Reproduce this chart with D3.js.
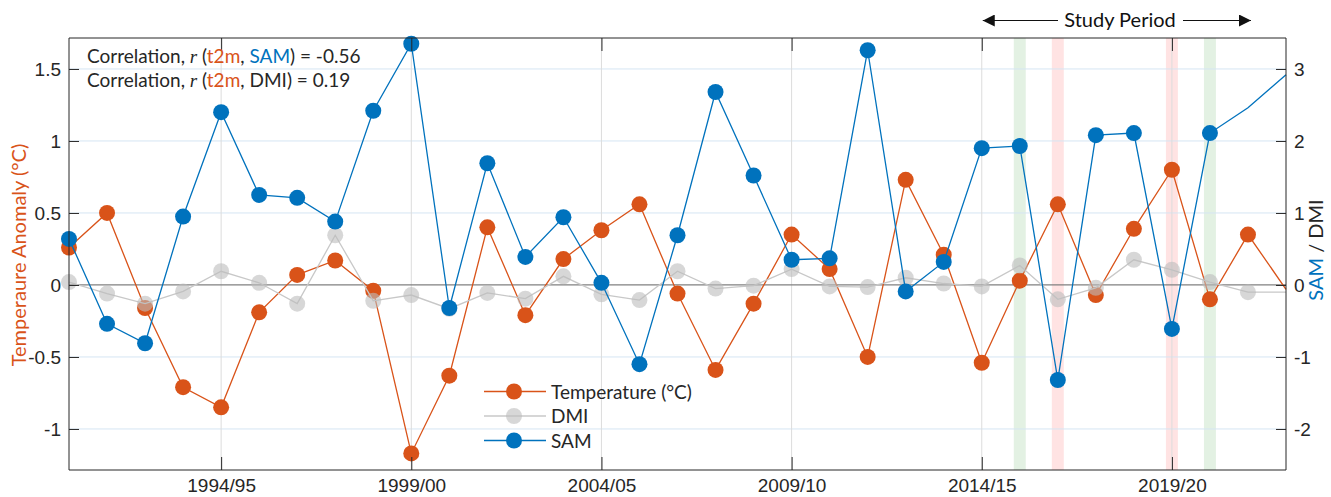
<!DOCTYPE html>
<html>
<head>
<meta charset="utf-8">
<script src="https://cdn.jsdelivr.net/npm/d3@7"></script>
<style>
  body { margin: 0; background: #fff; }
  svg { display: block; font-family: "Lato", "Open Sans", sans-serif; }
</style>
</head>
<body>
<div id="chart"></div>
<script>
// Data
const years = d3.range(1990, 2023);
const temperature = [0.26, 0.50, -0.16, -0.71, -0.85, -0.19, 0.07, 0.17, -0.04, -1.17,
  -0.63, 0.40, -0.21, 0.18, 0.38, 0.56, -0.06, -0.59, -0.13, 0.35,
  0.11, -0.50, 0.73, 0.21, -0.54, 0.03, 0.56, -0.07, 0.39, 0.80,
  -0.10, 0.35, -0.03];
const dmi = [0.04, -0.12, -0.26, -0.09, 0.19, 0.03, -0.26, 0.69, -0.22, -0.14,
  -0.33, -0.11, -0.19, 0.12, -0.13, -0.21, 0.19, -0.05, -0.01, 0.22,
  -0.02, -0.03, 0.10, 0.02, -0.02, 0.27, -0.20, -0.04, 0.35, 0.21,
  0.04, -0.10, -0.10];
const sam = [0.64, -0.54, -0.81, 0.95, 2.40, 1.25, 1.21, 0.88, 2.42, 3.35,
  -0.32, 1.69, 0.39, 0.94, 0.03, -1.10, 0.69, 2.68, 1.52, 0.35,
  0.37, 3.26, -0.09, 0.32, 1.90, 1.93, -1.32, 2.08, 2.11, -0.61,
  2.11, 2.46, 2.92];
// last year that carries a marker for each series
const tempMarkEnd = 2021, dmiMarkEnd = 2021, samMarkEnd = 2020;

const xTickYears = [1994, 1999, 2004, 2009, 2014, 2019];
const xTickLabels = ["1994/95", "1999/00", "2004/05", "2009/10", "2014/15", "2019/20"];
const leftTicks = [-1, -0.5, 0, 0.5, 1, 1.5];
const rightTicks = [-2, -1, 0, 1, 2, 3];

const positiveYears = [2015, 2020];   // green bands
const negativeYears = [2016, 2019];   // red bands

const ORANGE = "#D95319", BLUE = "#0072BD", GREY = "#bdbdbd";

// Layout
const width = 1331, height = 497;
const plot = { left: 69, top: 38, right: 1286, bottom: 470 };

const svg = d3.select("#chart").append("svg")
  .attr("width", width)
  .attr("height", height);

const x = d3.scaleLinear().domain([1990, 2022]).range([plot.left, plot.right]);
const yL = d3.scaleLinear().domain([-1.285, 1.715]).range([plot.bottom, plot.top]);
const yR = d3.scaleLinear().domain([-2.57, 3.43]).range([plot.bottom, plot.top]);

// Shaded years
const bandW = 12;
svg.append("g").selectAll("rect")
  .data(positiveYears.map(y => ({ y, c: "rgba(0,128,0,0.11)" }))
    .concat(negativeYears.map(y => ({ y, c: "rgba(255,0,0,0.11)" }))))
  .join("rect")
  .attr("x", d => x(d.y) - bandW / 2)
  .attr("y", plot.top)
  .attr("width", bandW)
  .attr("height", plot.bottom - plot.top)
  .attr("fill", d => d.c);

// Grid
const grid = svg.append("g");
grid.selectAll(".hg")
  .data(leftTicks.filter(d => d !== 0))
  .join("line")
  .attr("x1", plot.left).attr("x2", plot.right)
  .attr("y1", d => yL(d)).attr("y2", d => yL(d))
  .attr("stroke", "#d5e5f3").attr("stroke-width", 1);
grid.selectAll(".vg")
  .data(xTickYears)
  .join("line")
  .attr("x1", d => x(d)).attr("x2", d => x(d))
  .attr("y1", plot.top).attr("y2", plot.bottom)
  .attr("stroke", "#dcdcdc").attr("stroke-width", 1);
grid.append("line")
  .attr("x1", plot.left).attr("x2", plot.right)
  .attr("y1", yL(0)).attr("y2", yL(0))
  .attr("stroke", "#808080").attr("stroke-width", 1.2);

// Series
function drawSeries(values, yScale, color, markEnd, opts) {
  const pts = years.map((yr, i) => ({ yr, v: values[i] }));
  const g = svg.append("g");
  g.append("path")
    .datum(pts)
    .attr("fill", "none")
    .attr("stroke", color)
    .attr("stroke-width", opts.lw)
    .attr("d", d3.line().x(d => x(d.yr)).y(d => yScale(d.v)));
  g.selectAll("circle")
    .data(pts.filter(d => d.yr <= markEnd))
    .join("circle")
    .attr("cx", d => x(d.yr))
    .attr("cy", d => yScale(d.v))
    .attr("r", 8)
    .attr("fill", opts.fill || color)
    .attr("fill-opacity", opts.op || 1);
}
drawSeries(temperature, yL, ORANGE, tempMarkEnd, { lw: 1.3 });
drawSeries(dmi, yR, "#c8c8c8", dmiMarkEnd, { lw: 1.3, fill: GREY, op: 0.6 });
drawSeries(sam, yR, BLUE, samMarkEnd, { lw: 1.3 });

// Axes
const axisColor = "#262626";
const fmt = d => String(d);
function styleAxis(g) {
  g.selectAll("path, line").attr("stroke", axisColor);
  g.selectAll("text").attr("fill", axisColor).style("font-size", "19px");
}
svg.append("g")
  .attr("transform", `translate(0,${plot.bottom})`)
  .call(d3.axisBottom(x).tickValues(xTickYears).tickFormat((d, i) => xTickLabels[i])
    .tickSizeInner(-13).tickSizeOuter(0).tickPadding(9))
  .call(g => g.select(".domain").attr("d", `M${plot.left},0H${plot.right}`))
  .call(styleAxis);
svg.append("g")
  .attr("transform", `translate(0,${plot.top})`)
  .call(d3.axisTop(x).tickValues(xTickYears).tickFormat("")
    .tickSizeInner(-13).tickSizeOuter(0))
  .call(g => g.select(".domain").attr("d", `M${plot.left},0H${plot.right}`))
  .call(styleAxis);
svg.append("g")
  .attr("transform", `translate(${plot.left},0)`)
  .call(d3.axisLeft(yL).tickValues(leftTicks).tickFormat(fmt)
    .tickSizeInner(-10).tickSizeOuter(0).tickPadding(8))
  .call(g => g.select(".domain").attr("d", `M0,${plot.top}V${plot.bottom}`))
  .call(styleAxis);
svg.append("g")
  .attr("transform", `translate(${plot.right},0)`)
  .call(d3.axisRight(yR).tickValues(rightTicks).tickFormat(fmt)
    .tickSizeInner(-10).tickSizeOuter(0).tickPadding(8))
  .call(g => g.select(".domain").attr("d", `M0,${plot.top}V${plot.bottom}`))
  .call(styleAxis);

// Axis titles
svg.append("text")
  .attr("transform", `translate(26,255) rotate(-90)`)
  .attr("text-anchor", "middle")
  .attr("fill", ORANGE)
  .style("font-size", "20px")
  .text("Temperaure Anomaly (°C)");
const rt = svg.append("text")
  .attr("transform", `translate(1323,250) rotate(-90)`)
  .attr("text-anchor", "middle")
  .style("font-size", "20px")
  .attr("fill", axisColor);
rt.append("tspan").attr("fill", BLUE).text("SAM");
rt.append("tspan").text(" / DMI");

// Correlation annotation
const corr = [
  { idx: "SAM", idxColor: BLUE, val: "-0.56" },
  { idx: "DMI", idxColor: axisColor, val: "0.19" }
];
corr.forEach((c, i) => {
  const t = svg.append("text")
    .attr("x", 87).attr("y", 63 + i * 24)
    .attr("fill", axisColor)
    .style("font-size", "19px");
  t.append("tspan").text("Correlation, ");
  t.append("tspan").style("font-family", "'Liberation Serif', serif").style("font-style", "italic").text("r");
  t.append("tspan").text(" (");
  t.append("tspan").attr("fill", ORANGE).text("t2m");
  t.append("tspan").text(", ");
  t.append("tspan").attr("fill", c.idxColor).text(c.idx);
  t.append("tspan").text(") = " + c.val);
});

// Study period arrow
const defs = svg.append("defs");
defs.append("marker")
  .attr("id", "ah")
  .attr("viewBox", "0 0 10 10")
  .attr("refX", 10).attr("refY", 5)
  .attr("markerWidth", 12).attr("markerHeight", 12)
  .attr("markerUnits", "userSpaceOnUse")
  .attr("orient", "auto-start-reverse")
  .append("path").attr("d", "M0,0L10,5L0,10z").attr("fill", "#111");
const arrowY = 20.5;
svg.append("line")
  .attr("x1", 1058).attr("x2", x(2014) + 1)
  .attr("y1", arrowY).attr("y2", arrowY)
  .attr("stroke", "#111").attr("stroke-width", 1.2)
  .attr("marker-end", "url(#ah)");
svg.append("line")
  .attr("x1", 1183).attr("x2", 1251)
  .attr("y1", arrowY).attr("y2", arrowY)
  .attr("stroke", "#111").attr("stroke-width", 1.2)
  .attr("marker-end", "url(#ah)");
svg.append("text")
  .attr("x", 1120).attr("y", 27)
  .attr("text-anchor", "middle")
  .attr("fill", "#111")
  .style("font-size", "20px")
  .text("Study Period");

// Legend
const legendItems = [
  { label: "Temperature (°C)", color: ORANGE, fill: ORANGE, op: 1 },
  { label: "DMI", color: "#c8c8c8", fill: GREY, op: 0.6 },
  { label: "SAM", color: BLUE, fill: BLUE, op: 1 }
];
const lg = svg.append("g");
legendItems.forEach((d, i) => {
  const yy = 391.5 + i * 24.5;
  lg.append("line")
    .attr("x1", 484).attr("x2", 546)
    .attr("y1", yy).attr("y2", yy)
    .attr("stroke", d.color).attr("stroke-width", 1.3);
  lg.append("circle")
    .attr("cx", 514).attr("cy", yy).attr("r", 8)
    .attr("fill", d.fill).attr("fill-opacity", d.op);
  lg.append("text")
    .attr("x", 551).attr("y", yy + 7)
    .attr("fill", axisColor)
    .style("font-size", "19px")
    .text(d.label);
});
</script>
</body>
</html>
